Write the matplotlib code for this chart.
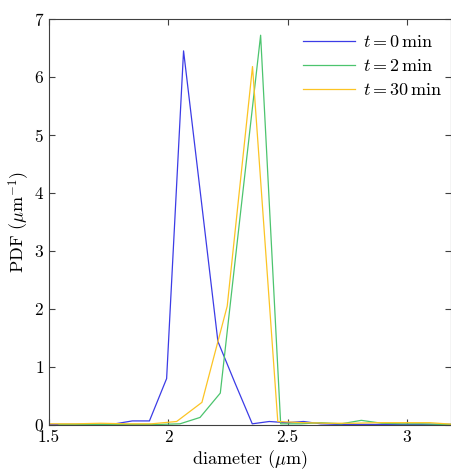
import matplotlib
matplotlib.use('Agg')
import matplotlib.pyplot as plt

plt.rcParams['font.family'] = 'serif'
plt.rcParams['font.serif'] = ['cmr10']
plt.rcParams['mathtext.fontset'] = 'cm'
plt.rcParams['axes.formatter.use_mathtext'] = True
plt.rcParams['font.size'] = 12

# t = 0 min
d0 = [1.490, 1.562, 1.634, 1.705, 1.777, 1.849, 1.921, 1.993, 2.064, 2.136,
      2.208, 2.280, 2.352, 2.423, 2.495, 2.567, 2.639, 2.711, 2.782, 2.854,
      2.926, 2.998, 3.070, 3.141, 3.213]
p0 = [0.01, 0.01, 0.01, 0.01, 0.02, 0.07, 0.07, 0.80, 6.45, 3.95,
      1.44, 0.72, 0.02, 0.06, 0.04, 0.06, 0.02, 0.01, 0.01, 0.01,
      0.01, 0.01, 0.01, 0.01, 0.01]

# t = 2 min
d2 = [1.542, 1.626, 1.711, 1.795, 1.880, 1.964, 2.049, 2.133, 2.218, 2.302,
      2.387, 2.471, 2.556, 2.640, 2.725, 2.809, 2.894, 2.978, 3.063, 3.147,
      3.232]
p2 = [0.01, 0.01, 0.01, 0.01, 0.01, 0.01, 0.02, 0.13, 0.55, 3.63,
      6.72, 0.02, 0.02, 0.04, 0.02, 0.08, 0.03, 0.02, 0.02, 0.01,
      0.01]

# t = 30 min
d30 = [1.505, 1.611, 1.717, 1.823, 1.929, 2.035, 2.141, 2.247, 2.353, 2.459,
       2.565, 2.671, 2.777, 2.883, 2.989, 3.095, 3.201]
p30 = [0.02, 0.02, 0.03, 0.02, 0.02, 0.06, 0.39, 2.05, 6.18, 0.06,
       0.04, 0.03, 0.03, 0.04, 0.04, 0.04, 0.01]

labels = [r'$t = 0\,\mathrm{min}$', r'$t = 2\,\mathrm{min}$', r'$t = 30\,\mathrm{min}$']
colors = ['#3c3ce6', '#4cc46e', '#fcc424']

fig = plt.figure(figsize=(4.52, 4.71), dpi=100)
ax = fig.add_axes([0.1084, 0.0977, 0.8894, 0.862])

ax.plot(d0, p0, color=colors[0], lw=0.9, label=labels[0])
ax.plot(d2, p2, color=colors[1], lw=0.9, label=labels[1])
ax.plot(d30, p30, color=colors[2], lw=0.9, label=labels[2])

ax.set_xlim(1.5, 3.185)
ax.set_ylim(0, 7)
ax.set_xticks([1.5, 2, 2.5, 3])
ax.set_xticklabels(['1.5', '2', '2.5', '3'])
ax.set_yticks(range(8))
ax.tick_params(direction='in', top=True, right=True, length=4, width=0.8,
               color='#404040', labelsize=12.5)
for s in ax.spines.values():
    s.set_color('#404040')
    s.set_linewidth(0.8)

ax.set_xlabel(r'diameter ($\mu$m)', fontsize=13, labelpad=2)
ax.set_ylabel(r'PDF ($\mu$m$^{-1}$)', fontsize=13, labelpad=1)

ax.legend(loc='upper right', bbox_to_anchor=(1.0, 0.985), frameon=False,
          handlelength=2.9, handletextpad=0.4, labelspacing=0.45,
          borderaxespad=0.1, fontsize=13)

fig.savefig('out.png', dpi=100)
